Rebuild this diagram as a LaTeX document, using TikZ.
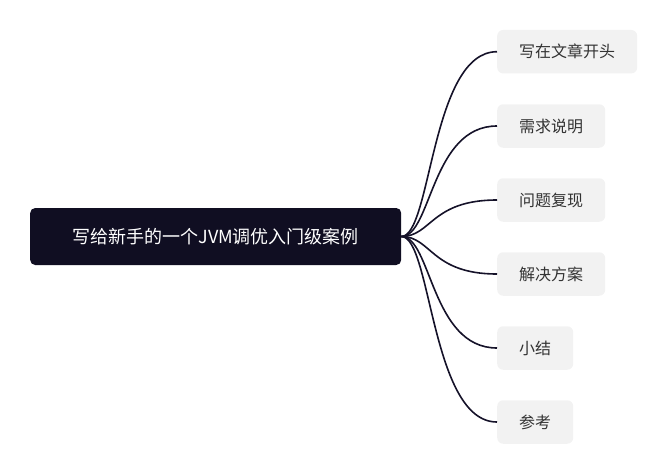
\documentclass[tikz,border=0pt]{standalone}
\usepackage{fontspec}
\newfontfamily\cjk{Noto Sans CJK SC}
\definecolor{rootfill}{HTML}{100E22}
\definecolor{leaffill}{HTML}{F2F2F2}
\definecolor{leaftext}{HTML}{333333}
\definecolor{linkcol}{HTML}{151229}
\begin{document}
\begin{tikzpicture}[x=1pt,y=-1pt,
  rootbox/.style={draw=none,fill=rootfill,rounded corners=5pt,text=white,
    minimum width=371pt,minimum height=57pt,inner sep=0pt,anchor=west,
    font=\cjk\fontsize{18}{20}\selectfont},
  leafbox/.style={draw=none,fill=leaffill,rounded corners=6pt,text=leaftext,
    minimum height=43.5pt,inner sep=0pt,anchor=west,
    font=\cjk\fontsize{16}{18}\selectfont},
  link/.style={draw=linkcol,line width=1.6pt}]
\useasboundingbox (0,0) rectangle (667,474);
\node[rootbox] (root) at (30,236.5) {写给新手的一个JVM调优入门级案例};
\node[leafbox,minimum width=140pt] (a) at (497,51.7) {写在文章开头};
\node[leafbox,minimum width=108pt] (b) at (497,126) {需求说明};
\node[leafbox,minimum width=108pt] (c) at (497,200) {问题复现};
\node[leafbox,minimum width=108pt] (d) at (497,274) {解决方案};
\node[leafbox,minimum width=76pt] (e) at (497,348) {小结};
\node[leafbox,minimum width=76pt] (f) at (497,422) {参考};
\foreach \n in {a,b,c,d,e,f}{
  \draw[link] (root.east) .. controls +(30,0) and +(-66,0) .. (\n.west);
}
\end{tikzpicture}
\end{document}
